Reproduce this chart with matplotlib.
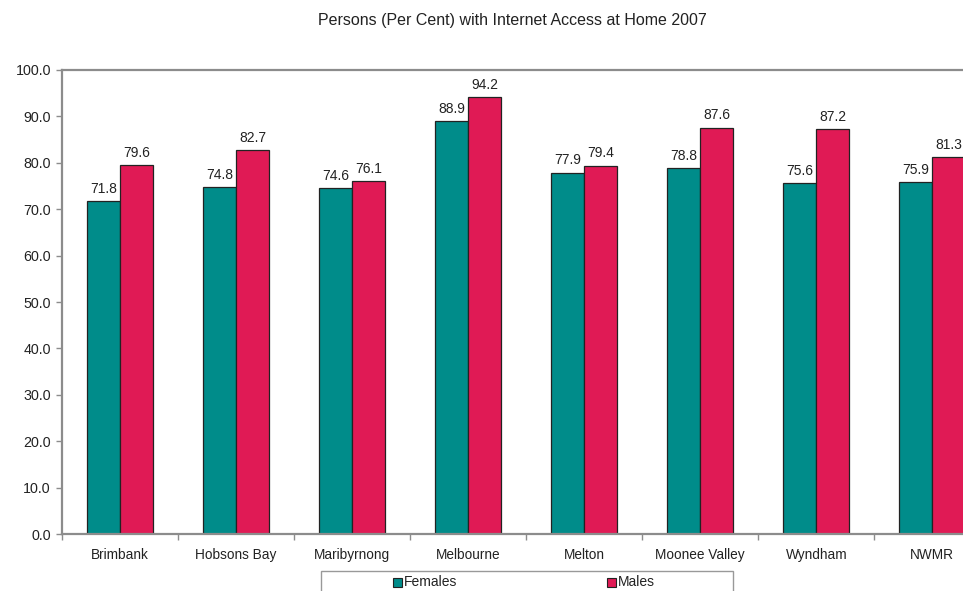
import numpy as np
import matplotlib.pyplot as plt
from matplotlib.patches import Rectangle

plt.rcParams['font.family'] = ['Liberation Sans', 'DejaVu Sans']

regions = ['Brimbank', 'Hobsons Bay', 'Maribyrnong', 'Melbourne', 'Melton',
           'Moonee Valley', 'Wyndham', 'NWMR']
females = [71.8, 74.8, 74.6, 88.9, 77.9, 78.8, 75.6, 75.9]
males = [79.6, 82.7, 76.1, 94.2, 79.4, 87.6, 87.2, 81.3]

teal = '#008C8A'
crimson = '#E01A55'
frame = '#8C8C8C'
ink = '#222222'

fig = plt.figure(figsize=(9.63, 5.91), dpi=100)
# plot area runs past the right edge of the canvas
ax = fig.add_axes([0.0644, 0.0964, 0.964, 0.7852])

x = np.arange(len(regions))
w = 0.285
fb = ax.bar(x - w / 2, females, w, color=teal, edgecolor=ink, linewidth=0.9)
mb = ax.bar(x + w / 2, males, w, color=crimson, edgecolor=ink, linewidth=0.9)

for bars, vals in ((fb, females), (mb, males)):
    for b, v in zip(bars, vals):
        ax.text(b.get_x() + b.get_width() / 2, v + 1.1, f'{v:.1f}',
                ha='center', va='bottom', fontsize=10, color=ink)

ax.set_xlim(-0.5, len(regions) - 0.5)
ax.set_ylim(0, 100)
ax.set_yticks(np.arange(0, 101, 10))
ax.set_yticklabels([f'{t:.1f}' for t in np.arange(0, 101, 10)])
ax.set_xticks(x)
ax.set_xticklabels(regions)
ax.set_xticks(np.arange(-0.5, len(regions)), minor=True)
ax.tick_params(axis='x', which='major', length=0, pad=10, labelsize=9.8, labelcolor=ink)
ax.tick_params(axis='x', which='minor', length=4, width=1, color=frame)
ax.tick_params(axis='y', length=4, width=1, color=frame, labelsize=10.3, labelcolor=ink, pad=4)

for s in ax.spines.values():
    s.set_color(frame)
    s.set_linewidth(1.6)

fig.text(0.532, 0.965, 'Persons (Per Cent) with Internet Access at Home 2007',
         ha='center', va='center', fontsize=11.5, color=ink)

# legend box, partly below the canvas
W, H = 963, 591
fig.patches.append(Rectangle((321 / W, -0.03), (733 - 321) / W, (591 - 571) / H + 0.03,
                             transform=fig.transFigure, facecolor='white',
                             edgecolor='#999999', linewidth=1))
for mx, lab, col in ((398, 'Females', teal), (612, 'Males', crimson)):
    fig.patches.append(Rectangle(((mx - 5) / W, (591 - 587) / H), 9 / W, 9 / H,
                                 transform=fig.transFigure, facecolor=col,
                                 edgecolor=ink, linewidth=0.8))
    fig.text((mx + 6) / W, (591 - 582) / H, lab, ha='left', va='center',
             fontsize=10, color=ink)

fig.savefig('out.png', dpi=100)
